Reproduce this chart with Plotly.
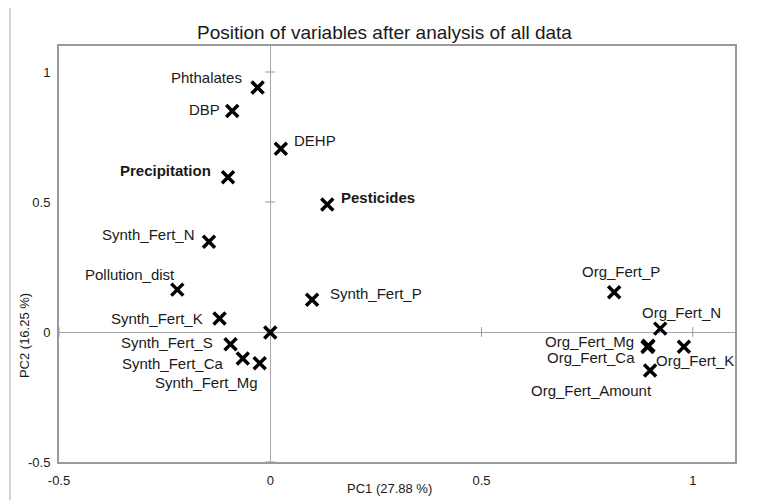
import plotly.graph_objects as go

# ---- data ----
labels = ["Phthalates", "DBP", "DEHP", "Precipitation", "Pesticides", "Synth_Fert_N",
          "Pollution_dist", "Synth_Fert_K", "Synth_Fert_P", "", "Synth_Fert_S",
          "Synth_Fert_Ca", "Synth_Fert_Mg", "Org_Fert_P", "Org_Fert_N", "Org_Fert_Mg",
          "Org_Fert_Ca", "Org_Fert_K", "Org_Fert_Amount"]
pc1 = [-0.03, -0.09, 0.025, -0.10, 0.135, -0.145,
       -0.22, -0.12, 0.099, 0.0, -0.094,
       -0.065, -0.025, 0.814, 0.923, 0.895,
       0.893, 0.979, 0.899]
pc2 = [0.94, 0.85, 0.705, 0.595, 0.49, 0.347,
       0.163, 0.052, 0.124, -0.002, -0.047,
       -0.102, -0.12, 0.153, 0.013, -0.053,
       -0.058, -0.057, -0.148]
bold_labels = ["Precipitation", "Pesticides"]

tick_vals = [-0.5, 0, 0.5, 1]
tick_text = ["-0.5", "0", "0.5", "1"]

title_text = "Position of variables after analysis of all data"
x_title = "PC1 (27.88 %)"
y_title = "PC2 (16.25 %)"

# label placement styles: (xanchor, xshift px, yshift px down)
label_style = {
    "Phthalates": ("right", -14, -10),
    "DBP": ("right", -10, -2),
    "DEHP": ("left", 11, -8),
    "Precipitation": ("right", -15, -7),
    "Pesticides": ("left", 12, -7),
    "Synth_Fert_N": ("right", -12, -7),
    "Pollution_dist": ("right", 0, -15),
    "Synth_Fert_K": ("right", -15, 0),
    "Synth_Fert_P": ("left", 16, -6),
    "Synth_Fert_S": ("right", -16, -2),
    "Synth_Fert_Ca": ("right", -17, 5),
    "Synth_Fert_Mg": ("right", 0, 19),
    "Org_Fert_P": ("center", 7, -21),
    "Org_Fert_N": ("center", 21, -16),
    "Org_Fert_Mg": ("right", -12, -4),
    "Org_Fert_Ca": ("right", -11, 10),
    "Org_Fert_K": ("center", 11, 14),
    "Org_Fert_Amount": ("right", 4, 20),
}

FONT = "Liberation Sans, Arial, sans-serif"
TXT = "#1a1a1a"

fig = go.Figure()

# small tick marks on the zero lines
fig.add_trace(go.Scatter(
    x=[v for v in tick_vals if v != 0], y=[0] * 3, mode="markers",
    marker=dict(symbol="line-ns", size=7, line=dict(color="#999999", width=1)),
    hoverinfo="skip", showlegend=False, cliponaxis=False))
fig.add_trace(go.Scatter(
    x=[0] * 3, y=[v for v in tick_vals if v != 0], mode="markers",
    marker=dict(symbol="line-ew", size=7, line=dict(color="#999999", width=1)),
    hoverinfo="skip", showlegend=False, cliponaxis=False))

fig.add_trace(go.Scatter(
    x=pc1, y=pc2, mode="markers",
    marker=dict(symbol="x-thin", size=12, color="black",
                line=dict(color="black", width=3.5)),
    showlegend=False, cliponaxis=False))

for name, x, y in zip(labels, pc1, pc2):
    if not name:
        continue
    anchor, dx, dy = label_style[name]
    txt = f"<b>{name}</b>" if name in bold_labels else name
    fig.add_annotation(x=x, y=y, text=txt, showarrow=False,
                       xanchor=anchor, yanchor="middle",
                       xshift=dx, yshift=-dy,
                       font=dict(family=FONT, size=15, color=TXT))

# title and axis titles
fig.add_annotation(xref="paper", yref="paper", x=0.4808, y=1.0334, text=title_text,
                   showarrow=False, xanchor="center", yanchor="middle",
                   font=dict(family=FONT, size=19, color=TXT))
fig.add_annotation(xref="paper", yref="paper", x=0.4896, y=-0.0644, text=x_title,
                   showarrow=False, xanchor="center", yanchor="middle",
                   font=dict(family=FONT, size=13, color=TXT))
fig.add_annotation(xref="paper", yref="paper", x=-0.0518, y=0.305, text=y_title,
                   showarrow=False, xanchor="center", yanchor="middle", textangle=-90,
                   font=dict(family=FONT, size=13, color=TXT))

# outer chart border
fig.add_shape(type="rect", xref="paper", yref="paper",
              x0=-0.0725, x1=1.0325, y0=-0.2, y1=1.093,
              line=dict(color="#c4c4c4", width=1.5), layer="below")

axis_common = dict(
    showgrid=False, zeroline=True, zerolinecolor="#a8a8a8", zerolinewidth=1,
    showline=True, mirror=True, linecolor="#9a9a9a", linewidth=2,
    tickvals=tick_vals, ticktext=tick_text, ticks="",
    tickfont=dict(family=FONT, size=13, color=TXT),
)
fig.update_xaxes(range=[-0.5, 1.1], ticklabelstandoff=5, **axis_common)
fig.update_yaxes(range=[-0.5, 1.1], ticklabelstandoff=4, **axis_common)

# page body adds an 8px margin, so the figure is sized to fill the rest
fig.update_layout(
    width=750, height=492,
    margin=dict(l=51, r=23, t=38, b=35),
    paper_bgcolor="white", plot_bgcolor="white",
    font=dict(family=FONT, color=TXT),
    showlegend=False,
)

fig.write_html("out.html")
